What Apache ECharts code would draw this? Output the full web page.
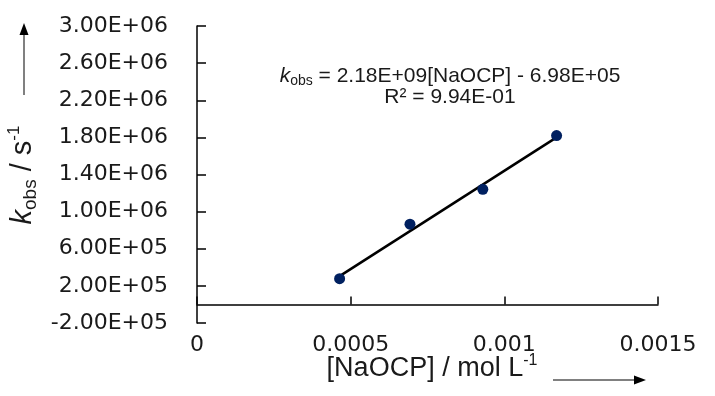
<!DOCTYPE html>
<html>
<head>
<meta charset="utf-8">
<script src="https://cdn.jsdelivr.net/npm/echarts@6/dist/echarts.min.js"></script>
<style>
  html, body { margin: 0; padding: 0; background: #fff; }
  #chart { width: 715px; height: 396px; }
</style>
</head>
<body>
<div id="chart"></div>
<script>
// measured points
const conc = [0.000464, 0.000693, 0.000930, 0.001170];
const kobs = [2.78e5, 8.65e5, 1.24e6, 1.82e6];
// trendline ends as drawn
const trendX = [0.000464, 0.001170];
const trendY = [3.05e5, 1.80e6];
const yTicks = [-2e5, 2e5, 6e5, 1e6, 1.4e6, 1.8e6, 2.2e6, 2.6e6, 3e6];
const xTicks = [0, 0.0005, 0.001, 0.0015];

const chart = echarts.init(document.getElementById('chart'));

const sciLabel = v => {
    const parts = v.toExponential(2).split('e');
    const n = parseInt(parts[1], 10);
    return parts[0] + 'E' + (n < 0 ? '-' : '+') + String(Math.abs(n)).padStart(2, '0');
};

const tickFont = 'DejaVu Sans';
const textFont = 'Liberation Sans';
const ink = '#1a1a1a';

const option = {
    animation: false,
    grid: {left: 197, right: 57, top: 26, bottom: 73},
    xAxis: {
        type: 'value',
        min: 0,
        max: 0.0015,
        interval: 0.0005,
        splitLine: {show: false},
        axisLine: {onZero: true, lineStyle: {color: '#000', width: 1.5}},
        axisTick: {customValues: xTicks, inside: true, length: 8, lineStyle: {color: '#000', width: 1.5}},
        axisLabel: {
            customValues: xTicks,
            margin: 11,
            fontFamily: tickFont,
            fontSize: 22,
            color: ink
        }
    },
    yAxis: {
        type: 'value',
        min: -2e5,
        max: 3e6,
        splitLine: {show: false},
        axisLine: {onZero: false, lineStyle: {color: '#000', width: 1.5}},
        axisTick: {customValues: yTicks, inside: true, length: 9, lineStyle: {color: '#000', width: 1.5}},
        axisLabel: {
            customValues: yTicks,
            formatter: sciLabel,
            margin: 29,
            fontFamily: tickFont,
            fontSize: 22,
            color: ink
        }
    },
    series: [
        {
            type: 'line',
            data: trendX.map((x, i) => [x, trendY[i]]),
            symbol: 'none',
            lineStyle: {color: '#000', width: 2.5},
            z: 1
        },
        {
            type: 'scatter',
            data: conc.map((x, i) => [x, kobs[i]]),
            symbolSize: 11,
            itemStyle: {color: '#002060', opacity: 1},
            z: 2
        }
    ],
    graphic: [
        {
            type: 'text',
            x: 450, y: 76,
            style: {
                text: '{k|k}{sub|obs}{n| = 2.18E+09[NaOCP] - 6.98E+05}',
                align: 'center', verticalAlign: 'middle',
                rich: {
                    k: {fontFamily: textFont, fontSize: 21, fontStyle: 'italic', lineHeight: 24, fill: ink},
                    sub: {fontFamily: textFont, fontSize: 14, lineHeight: 15, verticalAlign: 'bottom', fill: ink},
                    n: {fontFamily: textFont, fontSize: 21, lineHeight: 24, fill: ink}
                }
            }
        },
        {
            type: 'text',
            x: 450, y: 97,
            style: {
                text: 'R² = 9.94E-01',
                align: 'center', verticalAlign: 'middle',
                fontFamily: textFont, fontSize: 21, fill: ink
            }
        },
        {
            type: 'text',
            x: 23, y: 175,
            rotation: Math.PI / 2,
            style: {
                text: '{k|k}{sub|obs}{n| / s}{sup|-1}',
                align: 'center', verticalAlign: 'middle',
                rich: {
                    k: {fontFamily: textFont, fontSize: 29, fontStyle: 'italic', lineHeight: 34, fill: ink},
                    sub: {fontFamily: textFont, fontSize: 19, lineHeight: 21, verticalAlign: 'bottom', fill: ink},
                    n: {fontFamily: textFont, fontSize: 29, lineHeight: 34, fill: ink},
                    sup: {fontFamily: textFont, fontSize: 17, lineHeight: 19, verticalAlign: 'top', fill: ink}
                }
            }
        },
        {
            type: 'line',
            shape: {x1: 24, y1: 95, x2: 24, y2: 34},
            style: {stroke: '#808080', lineWidth: 2}
        },
        {
            type: 'polygon',
            shape: {points: [[24, 23], [19.5, 35], [28.5, 35]]},
            style: {fill: '#000'}
        },
        {
            type: 'text',
            x: 432, y: 369,
            style: {
                text: '{n|[NaOCP] / mol L}{sup|-1}',
                align: 'center', verticalAlign: 'middle',
                rich: {
                    n: {fontFamily: textFont, fontSize: 27, lineHeight: 32, fill: ink},
                    sup: {fontFamily: textFont, fontSize: 16, lineHeight: 18, verticalAlign: 'top', fill: ink}
                }
            }
        },
        {
            type: 'line',
            shape: {x1: 553, y1: 380, x2: 635, y2: 380},
            style: {stroke: '#808080', lineWidth: 2}
        },
        {
            type: 'polygon',
            shape: {points: [[646, 380], [634, 375.5], [634, 384.5]]},
            style: {fill: '#000'}
        }
    ]
};

chart.setOption(option);
</script>
</body>
</html>
